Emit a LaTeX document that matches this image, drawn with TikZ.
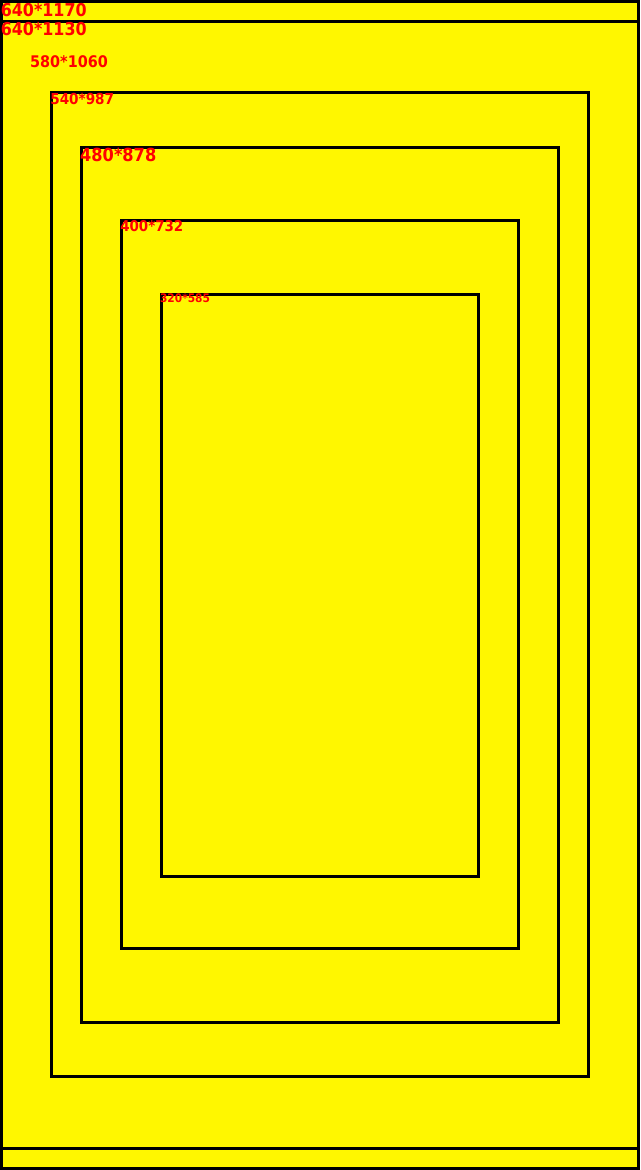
\documentclass[tikz,border=0pt]{standalone}
\usepackage{fontspec}
\newfontfamily\labfont{DejaVu Sans Condensed}[BoldFont={DejaVu Sans Condensed Bold}]
\definecolor{bgyellow}{RGB}{255,247,0}
\definecolor{labred}{RGB}{255,0,0}
\tikzset{
  frame/.style={draw=black, line width=2.8pt},
  lab/.style={anchor=north west, inner sep=0pt, outer sep=0pt, text=labred},
}
\newcommand{\labsize}[1]{\labfont\bfseries\fontsize{#1}{#1}\selectfont}
\begin{document}
\begin{tikzpicture}[x=1pt,y=-1pt]
\useasboundingbox (0,0) rectangle (640,1170);
\fill[bgyellow] (0,0) rectangle (640,1170);
% frames
\draw[frame] (1.4,1.4) rectangle (638.6,1168.6);
\draw[frame] (1.4,21.5) rectangle (638.6,1148.3);
\draw[frame] (51.5,92.3) rectangle (588.3,1076.5);
\draw[frame] (81.5,147.3) rectangle (558.5,1022.3);
\draw[frame] (121.5,220.5) rectangle (518.5,948.3);
\draw[frame] (161.5,294.5) rectangle (478.5,876.5);
% labels
\node[lab, font=\labsize{17.7}] (l1) at (0.8,3.3) {640*1170};
\node[lab, font=\labsize{17.7}] (l2) at (0.8,22.5) {640*1130};
\node[lab, font=\labsize{16}] (l3) at (30.2,56) {580*1060};
\node[lab, font=\labsize{15.1}] (l4) at (50.3,93.3) {540*987};
\node[lab, font=\labsize{18}] (l5) at (80.2,148.3) {480*878};
\node[lab, font=\labsize{14.9}] (l6) at (120.3,220) {400*732};
\node[lab, font=\labsize{11.8}] (l7) at (160.1,294) {320*585};
\end{tikzpicture}
\end{document}
